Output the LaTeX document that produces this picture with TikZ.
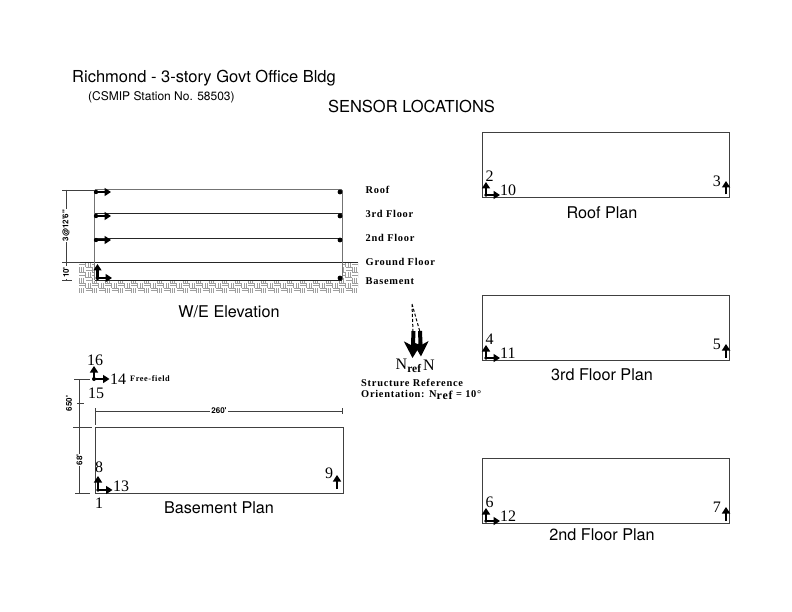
\documentclass[tikz,border=0pt]{standalone}
\usepackage{fontspec}
\setmainfont{Liberation Serif}
\newfontfamily\sansf{TeX Gyre Heros}
\newfontfamily\lblf[LetterSpace=7,BoldFont={Liberation Serif Bold}]{Liberation Serif}
\usetikzlibrary{arrows.meta}
\tikzset{
 title/.style={font=\sansf\fontsize{16.5}{16}\selectfont,inner sep=0,anchor=west},
 subt/.style={font=\sansf\fontsize{12}{12}\selectfont,inner sep=0,anchor=west},
 captxt/.style={font=\sansf\fontsize{16.2}{16}\selectfont,inner sep=0},
 num/.style={font=\fontsize{16}{16}\selectfont,inner sep=0},
 lbl/.style={font=\lblf\bfseries\fontsize{10.4}{10}\selectfont,inner sep=0,anchor=west},
 dimt/.style={font=\sansf\bfseries\fontsize{8}{8}\selectfont,inner sep=0},
 plan/.style={draw=black!75,line width=.8pt,minimum width=247pt,minimum height=65pt,inner sep=0},
 wall/.style={draw=black!55,line width=1pt},
 floorl/.style={draw=black!85,line width=.8pt},
 dim/.style={draw=black!75,line width=.6pt},
 sens/.style={line width=2.6pt,-{Triangle[length=6.5pt,width=8pt]}},
 hatchl/.style={draw=black!38,line width=.4pt},
}
\newcommand{\plansens}[5]{%
 \node[plan,anchor=north west] (#1) at (482,#2) {};
 \coordinate (#1a) at (486,#2+63);
 \coordinate (#1u) at (486,#2+50);
 \coordinate (#1r) at (500,#2+63);
 \coordinate (#1b) at (726,#2+62.5);
 \coordinate (#1c) at (726,#2+49);
 \draw[sens] (#1a)--(#1u);
 \draw[sens] (#1a)--(#1r);
 \draw[sens] (#1b)--(#1c);
 \fill (#1a) circle (1.8);
 \node[num,anchor=west] at (485.5,#2+44) {#3};
 \node[num,anchor=west] at (500,#2+58.5) {#4};
 \node[num,anchor=east] at (721,#2+49) {#5};
}
\begin{document}
\begin{tikzpicture}[x=1pt,y=-1pt]
\useasboundingbox (0,0) rectangle (792,612);
\fill[white] (0,0) rectangle (792,612);
% titles
\node[title] (t1) at (72,78) {Richmond - 3-story Govt Office Bldg};
\node[subt] (t2) at (88,97) {(CSMIP Station No. 58503)};
\node[title,anchor=center] (t3) at (411.5,106) {SENSOR LOCATIONS};
% ground hatch
\begin{scope}
\clip (79,262) rectangle (94,293) (94,281) rectangle (343,293) (343,262) rectangle (358,293);
\foreach \i in {0,...,43}{\foreach \j in {0,...,5}{
  \pgfmathsetmacro{\px}{79+6.5*\i}\pgfmathsetmacro{\py}{262+5.2*\j}
  \pgfmathtruncatemacro{\parity}{mod(\i+\j,2)}
  \ifnum\parity=0
   \draw[hatchl] (\px,\py) -- ++(6.5,0) (\px,\py+2.6) -- ++(6.5,0);
  \else
   \draw[hatchl] (\px,\py) -- ++(0,5.2) (\px+2.2,\py) -- ++(0,5.2) (\px+4.4,\py) -- ++(0,5.2);
  \fi
}}
\end{scope}
% elevation
\coordinate (rl) at (94.5,190); \coordinate (rr) at (342,190);
\coordinate (fl) at (94.5,213.5); \coordinate (fr) at (342,213.5);
\coordinate (sl) at (94.5,238); \coordinate (sr) at (342,238);
\coordinate (gl) at (79,262); \coordinate (gr) at (358,262);
\coordinate (bl) at (94.5,280.5); \coordinate (br) at (342,280.5);
\draw[floorl] (fl)--(fr) (sl)--(sr) (gl)--(gr) (bl)--(br);
\draw[wall] (rl)--(rr) (rl)--(bl) (rr)--(br);
\foreach \y/\n in {192/a,216/b,240/c}{
 \coordinate (e\n) at (96,\y); \coordinate (e\n t) at (111,\y);
 \draw[sens] (e\n)--(e\n t);
 \fill (e\n) circle (2.2);
 \fill (340,\y) circle (2.4);
}
\coordinate (eo) at (97.5,278); \coordinate (eot) at (97.5,264); \coordinate (eor) at (112,278);
\draw[sens] (eo)--(eot); \draw[sens] (eo)--(eor);
\fill (eo) circle (2);
\fill (340,278) circle (2.4);
\node[lbl] at (365.5,190) {Roof};
\node[lbl] at (365.5,214) {3rd Floor};
\node[lbl] at (365.5,238) {2nd Floor};
\node[lbl] at (365.5,262) {Ground Floor};
\node[lbl] at (365.5,281) {Basement};
% elevation dims
\coordinate (d1) at (66,190); \coordinate (d2) at (66,262); \coordinate (d3) at (66,280.5);
\draw[dim] (d1)--(d3) (62,190)--(94,190) (62,262)--(80,262) (62,280.5)--(72,280.5);
\node[dimt,rotate=90,fill=white,inner sep=1pt] at (66,225.5) {3@12'6"};
\node[dimt,rotate=90,fill=white,inner sep=1pt] at (66,272.5) {10'};
\node[captxt] at (229,312) {W/E Elevation};
% plans
\plansens{rp}{132}{2}{10}{3}
\node[captxt] at (602,213) {Roof Plan};
\plansens{tp}{295}{4}{11}{5}
\node[captxt] at (602,375) {3rd Floor Plan};
\plansens{sp}{458}{6}{12}{7}
\node[captxt] at (602,535) {2nd Floor Plan};
% basement plan
\node[draw=black!75,line width=.8pt,minimum width=247.5pt,minimum height=66pt,inner sep=0,anchor=north west] (bp) at (95,427) {};
\coordinate (ba) at (98,490); \coordinate (bu) at (98,476); \coordinate (br1) at (112.5,490);
\coordinate (bb) at (337,489); \coordinate (bc) at (337,475);
\draw[sens] (ba)--(bu); \draw[sens] (ba)--(br1); \draw[sens] (bb)--(bc);
\fill (ba) circle (1.8);
\node[num] at (99,467) {8};
\node[num,anchor=west] at (113,486) {13};
\node[num] at (99,503) {1};
\node[num] at (329,473) {9};
\node[captxt] at (219,508) {Basement Plan};
% free field
\coordinate (ff) at (94,379); \coordinate (ffu) at (94,366); \coordinate (ffr) at (109.5,379);
\draw[sens] (ff)--(ffu); \draw[sens] (ff)--(ffr);
\fill (ff) circle (2);
\node[num] at (95,360) {16};
\node[num,anchor=west] at (110,379) {14};
\node[num] at (96,393) {15};
\node[lbl,font=\lblf\bfseries\fontsize{8.3}{8}\selectfont] at (130,379) {Free-field};
% plan dims
\coordinate (v1) at (79,379); \coordinate (v2) at (79,427); \coordinate (v3) at (79,493);
\draw[dim] (v1)--(v3) (74,379)--(90,379) (73,427)--(92,427) (75,493)--(90,493) (77,403)--(84,403);
\node[dimt,rotate=90,inner sep=1pt] at (69,403.5) {650'};
\node[dimt,rotate=90,fill=white,inner sep=1pt] at (79.5,460) {68'};
\coordinate (h1) at (95,411); \coordinate (h2) at (342,411);
\draw[dim] (h1)--(h2) (95,408)--(95,425) (342,408)--(342,414);
\node[dimt,fill=white,inner sep=1pt] at (219,411) {260'};
% north arrows
\coordinate (n0) at (412,304);
\coordinate (n1) at (412.5,358); \coordinate (n2) at (421,356.5);
\draw[line width=1pt,dash pattern=on 3pt off 2pt] (n0)--(413,332) (n0)--(420,332);
\draw[line width=4pt,-{Stealth[length=16pt,width=18pt,inset=4pt]}] (413.5,331)--(n1);
\draw[line width=4pt,-{Stealth[length=15pt,width=16pt,inset=4pt]}] (420,331)--(n2);
\node[num,anchor=base west] at (395.5,369) {N\raisebox{-3pt}{\bfseries\fontsize{11.5}{12}\selectfont ref}};
\node[num,anchor=base west] at (423,370.5) {N};
\node[lbl] at (361,383) {Structure Reference};
\node[lbl] at (361,394.5) {Orientation: N\raisebox{-2pt}{\fontsize{12}{12}\selectfont ref} = 10\textdegree};
\end{tikzpicture}
\end{document}
